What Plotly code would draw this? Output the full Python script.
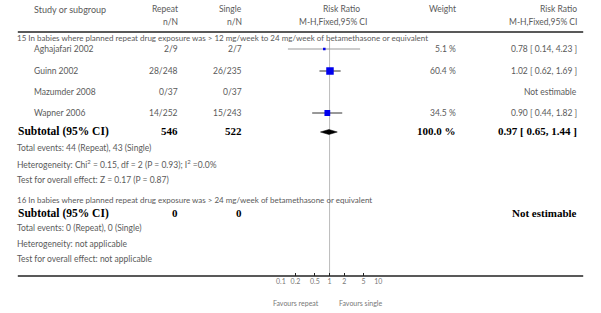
import plotly.graph_objects as go

W, H = 601, 313

studies = ["Aghajafari 2002", "Guinn 2002", "Mazumder 2008", "Wapner 2006"]
repeat_nN = ["2/9", "28/248", "0/37", "14/252"]
single_nN = ["2/7", "26/235", "0/37", "15/243"]
weights = [5.1, 60.4, None, 34.5]
rr = [0.78, 1.02, None, 0.90]
rr_lo = [0.14, 0.62, None, 0.44]
rr_hi = [4.23, 1.69, None, 1.82]
rr_text = ["0.78 [ 0.14, 4.23 ]", "1.02 [ 0.62, 1.69 ]", "Not estimable", "0.90 [ 0.44, 1.82 ]"]
weight_text = ["5.1 %", "60.4 %", "", "34.5 %"]

sub1_title = "15 In babies where planned repeat drug exposure was > 12 mg/week to 24 mg/week of betamethasone or equivalent"
sub1_tot = ["546", "522"]
sub1_rr, sub1_lo, sub1_hi = 0.97, 0.65, 1.44
sub1_lines = ["Total events: 44 (Repeat), 43 (Single)",
              "Heterogeneity: Chi<sup>2</sup> = 0.15, df = 2 (P = 0.93); I<sup>2</sup> =0.0%",
              "Test for overall effect: Z = 0.17 (P = 0.87)"]
sub2_title = "16 In babies where planned repeat drug exposure was > 24 mg/week of betamethasone or equivalent"
sub2_tot = ["0", "0"]
sub2_lines = ["Total events: 0 (Repeat), 0 (Single)",
              "Heterogeneity: not applicable",
              "Test for overall effect: not applicable"]

tick_vals = [0.1, 0.2, 0.5, 1, 2, 5, 10]
tick_text = ["0.1", "0.2", "0.5", "1", "2", "5", "10"]

# layout rows (pixel y)
study_y = [49, 71, 92, 113]
FONT = "Lato"
GREY = "#5a5a5a"
SERIF = "Liberation Serif"

fig = go.Figure()

axis_y = 276
fig.update_layout(
    width=W, height=H, margin=dict(l=0, r=0, t=0, b=0),
    paper_bgcolor="white", plot_bgcolor="white", showlegend=False,
    xaxis=dict(type="log", range=[-1, 1], domain=[280 / W, 379 / W],
               showgrid=False, zeroline=False, showline=False,
               tickvals=tick_vals, ticktext=tick_text, ticks="inside",
               ticklen=3, tickcolor="#222", tickwidth=1,
               tickfont=dict(family=FONT, size=7, color="#777")),
    yaxis=dict(range=[axis_y, 0], domain=[(H - axis_y) / H, 1],
               visible=False, showgrid=False, zeroline=False),
)

def px(x):
    return x / W

def py(y):
    return 1 - y / H

PAD = 3
ann = []
def text(x, y, s, anchor="left", size=8.5, color=GREY, family=FONT):
    shift = -PAD if anchor == "left" else (PAD if anchor == "right" else 0)
    ann.append(dict(x=px(x), y=py(y), xref="paper", yref="paper", text=s,
                    showarrow=False, xanchor=anchor, yanchor="middle", xshift=shift,
                    font=dict(family=family, size=size, color=color)))

# header
text(30, 9, "Study or subgroup", size=9)
text(175, 9, "Repeat", "right")
text(175, 22, "n/N", "right")
text(240, 9, "Single", "right")
text(240, 22, "n/N", "right")
text(342, 9, "Risk Ratio", "center")
text(333, 22, "M-H,Fixed,95% CI", "center")
text(457, 9, "Weight", "right")
text(580, 9, "Risk Ratio", "right")
text(580, 22, "M-H,Fixed,95% CI", "right")

# subgroup 1
text(13, 38, sub1_title, size=8)
for i, s in enumerate(studies):
    y = study_y[i]
    text(30, y, s)
    text(175, y, repeat_nN[i], "right")
    text(240, y, single_nN[i], "right")
    if weight_text[i]:
        text(457, y, weight_text[i], "right")
    text(580, y, rr_text[i], "right")

BS = 11
text(14, 131, "<b>Subtotal (95% CI)</b>", size=11.5, color="black", family=SERIF)
text(175, 131, "<b>%s</b>" % sub1_tot[0], "right", size=BS, color="black", family=SERIF)
text(240, 131, "<b>%s</b>" % sub1_tot[1], "right", size=BS, color="black", family=SERIF)
text(457, 131, "<b>100.0 %</b>", "right", size=BS, color="black", family=SERIF)
text(580, 131, "<b>%.2f [ %.2f, %.2f ]</b>" % (sub1_rr, sub1_lo, sub1_hi), "right",
     size=BS, color="black", family=SERIF)
for y, s in zip([148, 164, 180], sub1_lines):
    text(13, y, s)

# subgroup 2
text(13, 200, sub2_title, size=8)
text(14, 213, "<b>Subtotal (95% CI)</b>", size=11.5, color="black", family=SERIF)
text(175, 213, "<b>%s</b>" % sub2_tot[0], "right", size=BS, color="black", family=SERIF)
text(240, 213, "<b>%s</b>" % sub2_tot[1], "right", size=BS, color="black", family=SERIF)
text(580, 213, "<b>Not estimable</b>", "right", size=BS, color="black", family=SERIF)
for y, s in zip([228, 244, 259], sub2_lines):
    text(13, y, s)

# favours
text(318, 303, "Favours repeat", "right", size=7, color="#777")
text(340, 303, "Favours single", "left", size=7, color="#777")

fig.update_layout(annotations=ann)

shapes = [
    dict(type="line", xref="paper", yref="paper", x0=px(13), x1=px(587),
         y0=py(32), y1=py(32), line=dict(color="#222", width=1.5)),
    dict(type="line", xref="paper", yref="paper", x0=px(13), x1=px(587),
         y0=py(axis_y), y1=py(axis_y), line=dict(color="#222", width=1.5)),
    dict(type="line", xref="x", yref="y", x0=1, x1=1, y0=40, y1=axis_y,
         line=dict(color="#bbbbbb", width=1), layer="below"),
]
fig.update_layout(shapes=shapes)

# CI lines and squares
for i in range(len(studies)):
    if rr[i] is None:
        continue
    col = "#999999" if weights[i] < 10 else "#333333"
    fig.add_trace(go.Scatter(x=[rr_lo[i], rr_hi[i]], y=[study_y[i], study_y[i]],
                             mode="lines", line=dict(color=col, width=1),
                             hoverinfo="skip"))
    fig.add_trace(go.Scatter(x=[rr[i]], y=[study_y[i]], mode="markers",
                             marker=dict(symbol="square", color="#0000ee",
                                         size=weights[i] ** 0.5 * 0.9 + 0.5,
                                         line=dict(width=0)),
                             hoverinfo="skip"))

# diamond
dy = 132
fig.add_trace(go.Scatter(x=[sub1_lo, sub1_rr, sub1_hi, sub1_rr, sub1_lo],
                         y=[dy, dy - 2.5, dy, dy + 2.5, dy],
                         mode="lines", fill="toself", fillcolor="black",
                         line=dict(color="black", width=0.5), hoverinfo="skip"))

fig.write_html("out.html", config={"displayModeBar": False},
               post_script="document.body.style.margin='0';document.body.style.padding='0';")
